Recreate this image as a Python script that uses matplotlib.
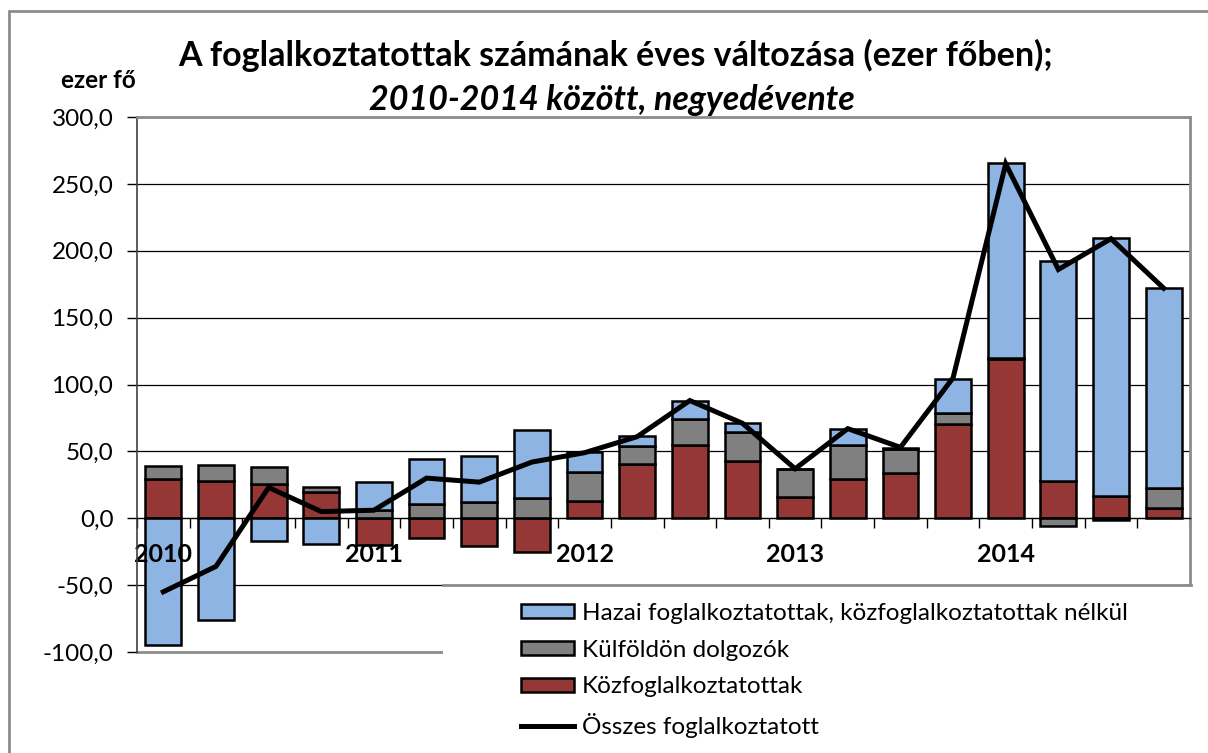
import numpy as np
import matplotlib
matplotlib.use("Agg")
import matplotlib.pyplot as plt
from matplotlib.patches import Patch, Rectangle
from matplotlib.lines import Line2D

plt.rcParams['font.family'] = ['Lato', 'DejaVu Sans']

# negyedévek 2010 Q1 - 2014 Q4
quarters = ['2010', '', '', '', '2011', '', '', '', '2012', '', '', '',
            '2013', '', '', '', '2014', '', '', '']

kozfogl = [29.3, 27.8, 25.5, 19.5, -19.8, -15.0, -20.7, -25.2, 13.2, 40.8,
           54.5, 42.5, 16.0, 29.3, 34.0, 70.5, 119.0, 28.0, 16.5, 7.8]
kulfold = [9.7, 11.7, 12.5, 3.8, 6.5, 10.3, 12.3, 15.3, 21.1, 13.5,
           19.5, 22.3, 20.5, 25.5, 17.5, 8.0, 1.0, -6.0, -1.0, 14.9]
hazai = [-95.0, -76.0, -17.0, -19.5, 20.5, 33.7, 34.5, 50.4, 15.5, 7.5,
         14.0, 6.2, 0.0, 11.7, 1.0, 25.5, 145.5, 164.0, 193.0, 149.3]
osszes = [-55, -36, 23, 5, 6, 30, 27, 42, 49, 61,
          88, 71, 37, 67, 53, 105, 265, 186, 209, 172]

series = [
    ('Közfoglalkoztatottak', kozfogl, '#953735'),
    ('Külföldön dolgozók', kulfold, '#808080'),
    ('Hazai foglalkoztatottak, közfoglalkoztatottak nélkül', hazai, '#8DB4E2'),
]

W, H = 1208, 753
fig = plt.figure(figsize=(W / 100, H / 100), dpi=100)
ax = fig.add_axes([137 / W, 1 - 652 / H, (1190 - 137) / W, (652 - 117) / H])

x = np.arange(len(quarters))
pos = np.zeros(len(x))
neg = np.zeros(len(x))
for name, vals, col in series:
    v = np.array(vals)
    bottom = np.where(v >= 0, pos, neg)
    ax.bar(x, v, 0.68, bottom=bottom, color=col, edgecolor='black',
           linewidth=1.8, zorder=1)
    pos = pos + np.clip(v, 0, None)
    neg = neg + np.clip(v, None, 0)

ax.plot(x, osszes, color='black', linewidth=3.6, zorder=3,
        solid_joinstyle='miter')

# rácsvonalak
for yv in np.arange(-50, 301, 50):
    if yv == 0:
        continue
    ax.axhline(yv, color='black', linewidth=0.9, zorder=0.5)
ax.axhline(-100, color='#8c8c8c', linewidth=2, zorder=0.6, clip_on=False)

ax.set_xlim(-0.5, 19.5)
ax.set_ylim(-100, 300)
ax.set_yticks(np.arange(-100, 301, 50))
ax.set_yticklabels([f"{v:.1f}".replace('.', ',') for v in np.arange(-100, 301, 50)],
                   fontsize=17.5)
ax.tick_params(axis='y', direction='out', length=7, width=1, pad=10)

ax.spines['bottom'].set_position(('data', 0))
ax.spines['bottom'].set_color('black')
ax.spines['bottom'].set_linewidth(1)
ax.set_xticks(np.arange(-0.5, 20, 1))
ax.set_xticklabels([])
ax.tick_params(axis='x', which='major', direction='out', length=7, width=1)
lab_idx = [i for i, q in enumerate(quarters) if q]
ax.set_xticks(lab_idx, minor=True)
ax.set_xticklabels([quarters[i] for i in lab_idx], minor=True,
                   fontsize=18, fontweight='bold')
ax.tick_params(axis='x', which='minor', length=0, pad=18)

for s in ['top', 'right']:
    ax.spines[s].set_color('#8c8c8c')
    ax.spines[s].set_linewidth(2)
ax.spines['left'].set_color('#404040')
ax.spines['left'].set_linewidth(1.2)

# jelmagyarázat alatti fehér mező
fig.patches.append(Rectangle((443 / W, 0), (W - 443) / W, (H - 585) / H,
                             transform=fig.transFigure, facecolor='white',
                             edgecolor='none', zorder=5))
fig.lines.append(Line2D([443 / W, 1191 / W], [1 - 585 / H, 1 - 585 / H],
                        transform=fig.transFigure, color='#8c8c8c',
                        linewidth=2, zorder=5.5))
# külső keret
fig.patches.append(Rectangle((9 / W, -0.1), 1.2, 1 - 11 / H + 0.1,
                             transform=fig.transFigure, facecolor='none',
                             edgecolor='#8c8c8c', linewidth=2, zorder=6))

handles = [Patch(facecolor=c, edgecolor='black', linewidth=1.8)
           for _, _, c in reversed(series)]
handles.append(Line2D([], [], color='black', linewidth=3.6))
labels = [n for n, _, _ in reversed(series)] + ['Összes foglalkoztatott']
leg = fig.legend(handles, labels, loc='upper left',
                 bbox_to_anchor=(499 / W, 1 - 581 / H), frameon=False,
                 fontsize=17.5, handlelength=2.2, handleheight=0.53,
                 handletextpad=0.3, labelspacing=0.65)
leg.set_zorder(7)

fig.text(615 / W, 1 - 55 / H,
         'A foglalkoztatottak számának éves változása (ezer főben);',
         ha='center', va='center', fontsize=24.5, fontweight='bold')
fig.text(612 / W, 1 - 100 / H, '2010-2014 között, negyedévente',
         ha='center', va='center', fontsize=24.5, fontweight='bold',
         fontstyle='italic')
fig.text(98 / W, 1 - 80 / H, 'ezer fő', ha='center', va='center',
         fontsize=17.5, fontweight='bold')

fig.savefig('out.png', dpi=100)
